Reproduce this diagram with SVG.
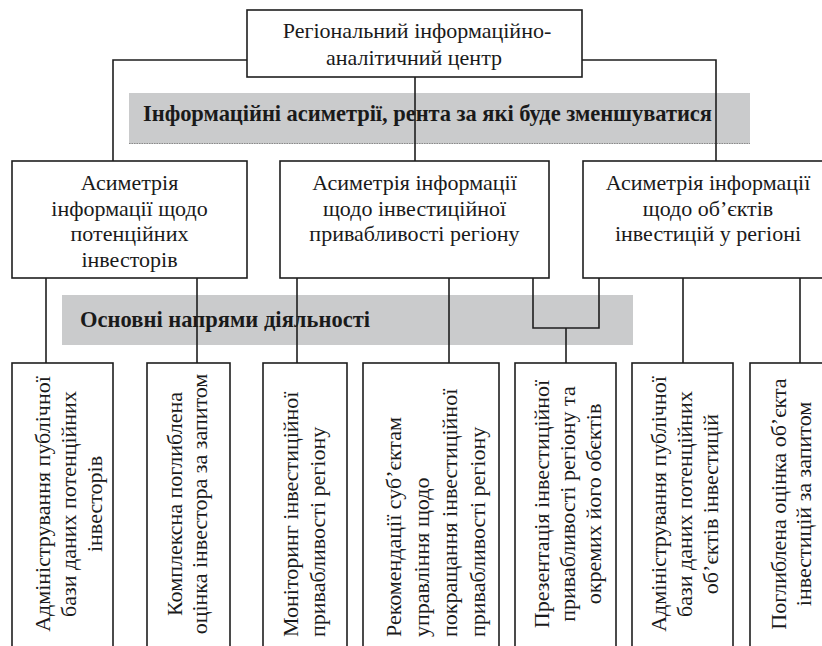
<svg xmlns="http://www.w3.org/2000/svg" width="822" height="646" viewBox="0 0 822 646">
<style>
.box{fill:#fff;stroke:#1e1e1e;stroke-width:1.6}
.band{fill:#cacbcc}
.t{font-family:"Liberation Serif","Times New Roman",serif;font-size:22px;fill:#1a1a1a}
.b{font-family:"Liberation Serif","Times New Roman",serif;font-size:22.5px;font-weight:bold;fill:#1a1a1a}
.c{text-anchor:middle}
.conn path{fill:none;stroke:#1e1e1e;stroke-width:1.6}
</style>
<rect width="822" height="646" fill="#fff"/>

<g id="band-asymmetries">
<rect class="band" x="129" y="93" width="621" height="51"/>
<line x1="129" y1="143.5" x2="750" y2="143.5" stroke="#8a8a8a" stroke-width="1" stroke-dasharray="1.5,1"/>
<text class="b" x="143" y="121" textLength="569">Інформаційні асиметрії, рента за які буде зменшуватися</text>
</g>
<g id="band-directions">
<rect class="band" x="62" y="295" width="571" height="50"/>
<text class="b" x="80" y="327" textLength="290">Основні напрями діяльності</text>
</g>

<g class="conn" id="connectors">
<path d="M247,60 H113 V161"/>
<path d="M582,60 H716 V161"/>
<path d="M415,77 V161"/>
<path d="M46,278 V363"/>
<path d="M197,278 V363"/>
<path d="M297,278 V363"/>
<path d="M449,278 V363"/>
<path d="M533,278 V328 H599 V278"/>
<path d="M566,328 V363"/>
<path d="M683,278 V363"/>
<path d="M800,278 V363"/>
</g>

<g id="center">
<rect class="box" x="247" y="10" width="335" height="67"/>
<text class="t c" x="417" y="38">Регіональний інформаційно-</text>
<text class="t c" x="414" y="65">аналітичний центр</text>
</g>

<g id="asym-investors">
<rect class="box" x="12" y="161" width="235" height="117"/>
<text class="t c" x="129.5" y="190">Асиметрія</text>
<text class="t c" x="129.5" y="216">інформації щодо</text>
<text class="t c" x="129.5" y="241">потенційних</text>
<text class="t c" x="129.5" y="267">інвесторів</text>
</g>
<g id="asym-attractiveness">
<rect class="box" x="280" y="161" width="269" height="117"/>
<text class="t c" x="414.5" y="190">Асиметрія інформації</text>
<text class="t c" x="414.5" y="216">щодо інвестиційної</text>
<text class="t c" x="414.5" y="241">привабливості регіону</text>
</g>
<g id="asym-objects">
<rect class="box" x="583" y="161" width="250" height="117"/>
<text class="t c" x="708" y="190">Асиметрія інформації</text>
<text class="t c" x="708" y="216">щодо об’єктів</text>
<text class="t c" x="708" y="241">інвестицій у регіоні</text>
</g>

<g id="d1">
<rect class="box" x="12" y="363" width="101" height="300"/>
<text class="t c" transform="translate(50,504) rotate(-90)">Адміністрування публічної</text>
<text class="t c" transform="translate(76,504) rotate(-90)">бази даних потенційних</text>
<text class="t c" transform="translate(102,504) rotate(-90)">інвесторів</text>
</g>
<g id="d2">
<rect class="box" x="147" y="363" width="83" height="300"/>
<text class="t c" transform="translate(182,504) rotate(-90)">Комплексна поглиблена</text>
<text class="t c" transform="translate(207,504) rotate(-90)">оцінка інвестора за запитом</text>
</g>
<g id="d3">
<rect class="box" x="263" y="363" width="84" height="300"/>
<text class="t" transform="translate(298,637) rotate(-90)">Моніторинг інвестиційної</text>
<text class="t" transform="translate(325,637) rotate(-90)">привабливості регіону</text>
</g>
<g id="d4">
<rect class="box" x="363" y="363" width="136" height="300"/>
<text class="t" transform="translate(401,637) rotate(-90)">Рекомендації суб’єктам</text>
<text class="t" transform="translate(429,637) rotate(-90)">управління щодо</text>
<text class="t" transform="translate(457,637) rotate(-90)">покращання інвестиційної</text>
<text class="t" transform="translate(485,637) rotate(-90)">привабливості регіону</text>
</g>
<g id="d5">
<rect class="box" x="515" y="363" width="101" height="300"/>
<text class="t c" transform="translate(549,504) rotate(-90)">Презентація інвестиційної</text>
<text class="t c" transform="translate(575,504) rotate(-90)">привабливості регіону та</text>
<text class="t c" transform="translate(601,504) rotate(-90)">окремих його обєктів</text>
</g>
<g id="d6">
<rect class="box" x="632" y="363" width="101" height="300"/>
<text class="t c" transform="translate(666,504) rotate(-90)">Адміністрування публічної</text>
<text class="t c" transform="translate(692,504) rotate(-90)">бази даних потенційних</text>
<text class="t c" transform="translate(718,504) rotate(-90)">об’єктів інвестицій</text>
</g>
<g id="d7">
<rect class="box" x="750" y="363" width="90" height="300"/>
<text class="t c" transform="translate(786,504) rotate(-90)">Поглиблена оцінка об’єкта</text>
<text class="t c" transform="translate(811,504) rotate(-90)">інвестицій за запитом</text>
</g>
</svg>
